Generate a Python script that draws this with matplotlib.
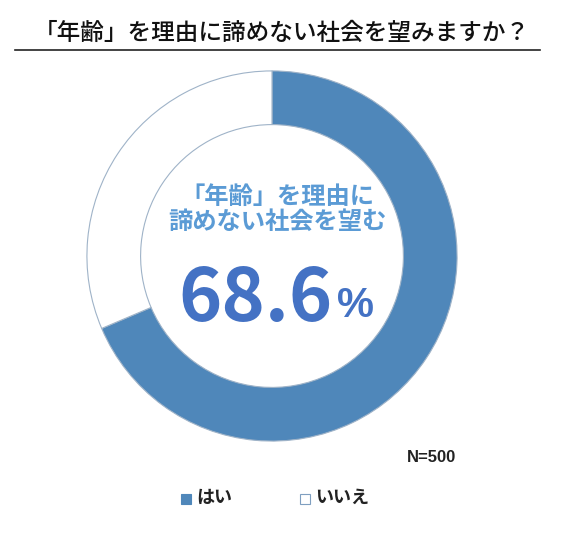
import matplotlib.pyplot as plt
from matplotlib.patches import Rectangle

plt.rcParams['font.family'] = ['Noto Sans CJK JP', 'DejaVu Sans']

labels = ['はい', 'いいえ']
values = [68.6, 31.4]
colors = ['#4F87BA', '#FFFFFF']
title = '「年齢」を理由に諦めない社会を望みますか？'
center_text = '「年齢」を理由に\n諦めない社会を望む'
n_text = 'N=500'

W, H = 563, 539
fig = plt.figure(figsize=(W / 100, H / 100), dpi=100)

# donut: center (272, 256), outer radius ~185 px
cx, cy, r = 272, 256, 186
ax = fig.add_axes([(cx - r) / W, 1 - (cy + r) / H, 2 * r / W, 2 * r / H])
ax.pie(values, colors=colors, startangle=90, counterclock=False,
       wedgeprops=dict(width=0.29, edgecolor='#9FB3C8', linewidth=0.8))
ax.set_xlim(-1.005, 1.005)
ax.set_ylim(-1.005, 1.005)
ax.set_aspect('equal')

# title with underline
fig.text(282 / W, 1 - 33 / H, title, ha='center', va='center',
         fontsize=17, fontweight='medium', color='#111111')
fig.add_artist(plt.Line2D([15 / W, 540 / W], [1 - 50 / H, 1 - 50 / H],
                          color='#222222', lw=1.2))

# center text
fig.text(277 / W, 1 - 209 / H, center_text, ha='center', va='center',
         fontsize=17.5, fontweight='bold', color='#5B9BD5', linespacing=1.05)
fig.text(333 / W, 1 - 300 / H, '68.6', ha='right', va='center',
         fontsize=53, fontweight='bold', color='#4472C4')
fig.text(337 / W, 1 - 306 / H, '%', ha='left', va='center',
         fontsize=30, fontweight='bold', color='#4472C4', family='Liberation Sans')

fig.text(432 / W, 1 - 458 / H, n_text, ha='center', va='center',
         fontsize=12, fontweight='bold', color='#222222', family='Liberation Sans')

# legend
leg_x = [181, 300]
for i, lab in enumerate(labels):
    fig.add_artist(Rectangle((leg_x[i] / W, 1 - 504 / H), 10 / W, 10 / H,
                             transform=fig.transFigure, facecolor=colors[i],
                             edgecolor='#4F87BA' if i == 0 else '#7F9FC0', lw=0.8))
    fig.text((leg_x[i] + 15) / W, 1 - 497 / H, lab, ha='left', va='center',
             fontsize=13, fontweight='bold', color='#222222')

fig.savefig('out.png', dpi=100)
